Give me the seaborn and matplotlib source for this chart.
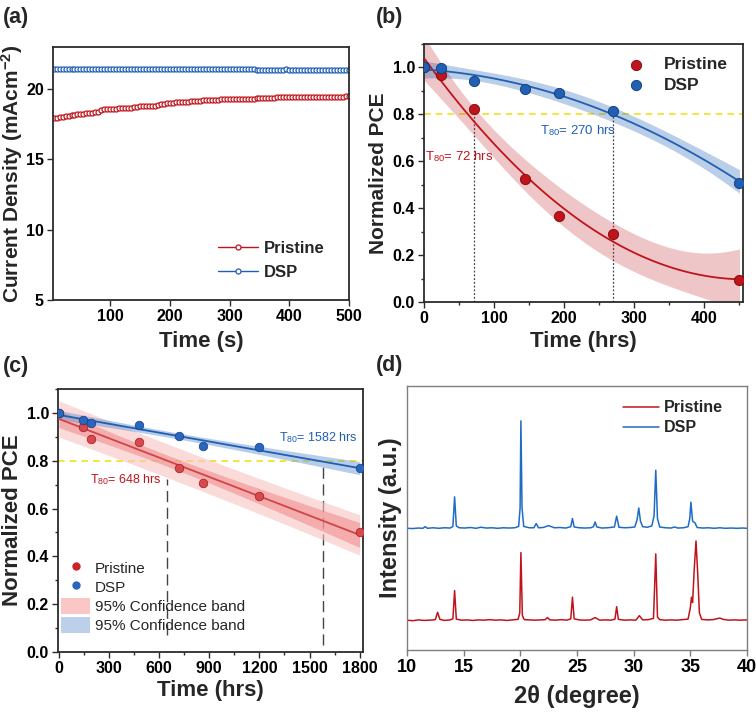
import numpy as np
import pandas as pd
import matplotlib
matplotlib.use("Agg")
import matplotlib.pyplot as plt
import matplotlib.ticker as mticker
from matplotlib.patches import Patch
from matplotlib.lines import Line2D
import seaborn as sns

# ----------------------------------------------------
# Data
# ----------------------------------------------------
# (a) J-t tracking, one reading every 5 s
jt_time = list(range(5, 505, 5))
jt_pristine = [
    17.95, 17.98, 18.02, 18.05, 18.08, 18.11, 18.14, 18.17, 18.20, 18.23,
    18.26, 18.29, 18.31, 18.33, 18.35, 18.37, 18.55, 18.56, 18.57, 18.58,
    18.60, 18.62, 18.64, 18.66, 18.64, 18.63, 18.66, 18.70, 18.74, 18.77,
    18.79, 18.81, 18.82, 18.80, 18.82, 18.88, 18.93, 18.97, 19.00, 19.02,
    19.04, 19.06, 19.07, 19.08, 19.09, 19.11, 19.13, 19.15, 19.17, 19.19,
    19.21, 19.22, 19.23, 19.24, 19.25, 19.26, 19.27, 19.28, 19.29, 19.30,
    19.30, 19.31, 19.31, 19.32, 19.32, 19.33, 19.33, 19.33, 19.34, 19.34,
    19.35, 19.36, 19.37, 19.38, 19.40, 19.41, 19.42, 19.43, 19.43, 19.44,
    19.44, 19.44, 19.45, 19.45, 19.44, 19.45, 19.45, 19.46, 19.45, 19.45,
    19.46, 19.46, 19.45, 19.46, 19.47, 19.47, 19.46, 19.47, 19.48, 19.48,
]
jt_dsp = [
    21.40, 21.41, 21.41, 21.42, 21.41, 21.42, 21.42, 21.43, 21.42, 21.43,
    21.43, 21.44, 21.45, 21.44, 21.43, 21.44, 21.44, 21.45, 21.44, 21.45,
    21.45, 21.45, 21.46, 21.46, 21.45, 21.46, 21.46, 21.45, 21.45, 21.44,
    21.45, 21.45, 21.44, 21.45, 21.46, 21.46, 21.45, 21.45, 21.46, 21.45,
    21.45, 21.46, 21.46, 21.45, 21.46, 21.46, 21.45, 21.45, 21.44, 21.44,
    21.44, 21.44, 21.43, 21.44, 21.43, 21.43, 21.43, 21.42, 21.43, 21.42,
    21.42, 21.42, 21.41, 21.42, 21.41, 21.41, 21.40, 21.40, 21.39, 21.39,
    21.38, 21.38, 21.38, 21.37, 21.38, 21.38, 21.39, 21.39, 21.40, 21.38,
    21.36, 21.34, 21.33, 21.33, 21.34, 21.34, 21.35, 21.35, 21.34, 21.35,
    21.35, 21.34, 21.35, 21.35, 21.34, 21.33, 21.34, 21.34, 21.33, 21.33,
]

# (b) stability, normalized PCE
b_time = [0, 24, 72, 144, 192, 270, 450]
b_pristine = [1.00, 0.967, 0.823, 0.523, 0.366, 0.288, 0.095]
b_dsp = [1.00, 0.997, 0.942, 0.910, 0.893, 0.813, 0.509]

# (c) long-term stability, normalized PCE
c_time = [0, 144, 192, 480, 720, 864, 1200, 1800]
c_pristine = [1.00, 0.940, 0.889, 0.880, 0.771, 0.708, 0.653, 0.503]
c_dsp = [1.00, 0.969, 0.958, 0.949, 0.903, 0.861, 0.857, 0.768]

# (d) XRD traces (2theta, intensity a.u.)
xrd_pristine_2t = [
    10.0, 10.5, 11.0, 11.5, 12.0, 12.5, 12.7, 12.9, 13.3, 13.8,
    14.05, 14.2, 14.35, 14.8, 15.3, 15.8, 16.3, 16.8, 17.3, 17.8,
    18.3, 18.8, 19.3, 19.8, 19.95, 20.05, 20.18, 20.35, 20.8, 21.3,
    21.8, 22.2, 22.4, 22.6, 23.1, 23.6, 24.1, 24.45, 24.6, 24.75,
    25.2, 25.7, 26.2, 26.6, 27.0, 27.5, 28.0, 28.35, 28.5, 28.65,
    29.2, 29.7, 30.2, 30.5, 30.8, 31.3, 31.75, 31.95, 32.1, 32.3,
    32.8, 33.3, 33.8, 34.3, 34.8, 35.0, 35.1, 35.2, 35.35, 35.5,
    35.65, 35.8, 36.0, 36.5, 37.0, 37.4, 37.6, 37.9, 38.4, 38.9,
    39.4, 40.0,
]
xrd_pristine_int = [
    0.3, 0.1, 0.4, 0.2, 0.3, 0.5, 3.3, 0.6, 0.2, 0.4,
    0.8, 11.5, 0.7, 0.3, 0.4, 0.2, 0.4, 0.3, 0.5, 0.3,
    0.4, 0.2, 0.4, 0.6, 3.0, 25.9, 2.0, 0.5, 0.4, 0.3,
    0.4, 0.5, 1.3, 0.4, 0.3, 0.5, 0.3, 0.8, 9.0, 0.8,
    0.4, 0.3, 0.4, 1.3, 0.3, 0.4, 0.3, 0.7, 5.4, 0.6,
    0.3, 0.4, 0.3, 2.0, 0.4, 0.5, 1.0, 25.4, 1.5, 0.5,
    0.3, 0.4, 0.3, 0.5, 0.7, 5.0, 9.0, 7.0, 20.0, 30.3,
    18.0, 3.0, 0.6, 0.4, 0.5, 0.9, 1.1, 0.6, 0.3, 0.4,
    0.3, 0.4,
]
xrd_dsp_2t = [
    10.0, 10.5, 11.0, 11.4, 11.6, 11.8, 12.3, 12.8, 13.3, 13.8,
    14.05, 14.2, 14.35, 14.6, 15.1, 15.6, 16.1, 16.5, 17.0, 17.5,
    18.0, 18.5, 19.0, 19.5, 19.85, 19.98, 20.05, 20.15, 20.3, 20.8,
    21.2, 21.4, 21.6, 22.0, 22.5, 23.0, 23.5, 24.0, 24.45, 24.6,
    24.75, 25.2, 25.7, 26.2, 26.45, 26.6, 26.75, 27.2, 27.7, 28.3,
    28.5, 28.7, 29.2, 29.7, 30.1, 30.3, 30.45, 30.6, 30.8, 31.2,
    31.6, 31.8, 31.95, 32.1, 32.3, 32.8, 33.3, 33.6, 33.9, 34.4,
    34.8, 34.95, 35.05, 35.2, 35.4, 35.6, 36.1, 36.6, 37.1, 37.6,
    38.1, 38.6, 39.1, 39.6, 40.0,
]
xrd_dsp_int = [
    0.3, 0.2, 0.4, 0.3, 0.9, 0.3, 0.5, 0.3, 0.5, 0.4,
    1.0, 12.2, 1.2, 0.5, 0.4, 0.6, 0.3, 0.7, 0.4, 0.5,
    0.3, 0.5, 0.4, 0.5, 1.0, 8.0, 41.0, 8.0, 1.0, 0.5,
    0.5, 2.1, 0.5, 0.6, 1.3, 0.5, 0.6, 0.4, 0.9, 4.0,
    0.8, 0.5, 0.4, 0.5, 0.9, 2.7, 0.8, 0.4, 0.5, 0.8,
    4.9, 0.7, 0.5, 0.6, 0.8, 3.5, 8.0, 3.0, 0.9, 0.7,
    1.2, 5.0, 22.3, 4.0, 0.8, 0.5, 0.4, 0.8, 0.4, 0.5,
    0.9, 4.0, 10.2, 3.0, 2.4, 0.6, 0.4, 0.5, 0.3, 0.5,
    0.3, 0.4, 0.3, 0.4, 0.3,
]

# ----------------------------------------------------
# Styling
# ----------------------------------------------------
sns.set_theme(style="ticks")
plt.rcParams["font.family"] = ["Liberation Sans", "DejaVu Sans"]
plt.rcParams["mathtext.fontset"] = "custom"
plt.rcParams["mathtext.rm"] = "Liberation Sans"
plt.rcParams["mathtext.bf"] = "Liberation Sans:bold"
plt.rcParams["mathtext.it"] = "Liberation Serif:italic"

RED = "#c0141c"
BLUE = "#1f5fb4"
YELLOW = "#f2e21c"
TICK_FS = 11.5
LABEL_FS = 16

fig = plt.figure(figsize=(7.56, 7.13), dpi=100)
W, H = 756, 713


def add_ax(left, top, right, bottom):
    return fig.add_axes([left / W, 1 - bottom / H, (right - left) / W, (bottom - top) / H])


def frame(ax, color="#2b2b2b", lw=1.3, fs=TICK_FS):
    for s in ax.spines.values():
        s.set_visible(True)
        s.set_color(color)
        s.set_linewidth(lw)
    ax.tick_params(which="both", direction="out", colors=color, width=1,
                   labelsize=fs, labelcolor="black", pad=2.5)
    ax.tick_params(which="major", length=4)
    ax.tick_params(which="minor", length=2.5)
    for lab in ax.get_xticklabels() + ax.get_yticklabels():
        lab.set_fontweight("bold")


def labels(ax, xl, yl, xpos, ypos, fs=LABEL_FS, yfs=None):
    ax.set_xlabel(xl, fontsize=fs, fontweight="bold")
    ax.set_ylabel(yl, fontsize=yfs or fs, fontweight="bold")
    ax.xaxis.label.set_va("center")
    ax.yaxis.label.set_va("center")
    ax.xaxis.set_label_coords(0.5, xpos)
    ax.yaxis.set_label_coords(ypos, 0.5)


def poly_band(x, y, order, grid, tval):
    # least-squares fit and its 95% confidence half-width on grid
    x = np.asarray(x, dtype=float)
    y = np.asarray(y, dtype=float)
    X = np.vander(x, order + 1)
    coef = np.linalg.lstsq(X, y, rcond=None)[0]
    dof = len(x) - (order + 1)
    s2 = np.sum((y - X @ coef) ** 2) / dof
    cov = s2 * np.linalg.inv(X.T @ X)
    G = np.vander(grid, order + 1)
    fit = G @ coef
    half = tval * np.sqrt(np.sum((G @ cov) * G, axis=1))
    return fit, half, s2


ax_a = add_ax(53, 47, 349, 300)
ax_b = add_ax(424, 44, 743, 302)
ax_c = add_ax(58, 389, 363, 652)
ax_d = add_ax(407, 386, 747, 650)

# ----------------------------------------------------
# (a) Current density vs time
# ----------------------------------------------------
for vals, col, lab in [(jt_pristine, RED, "Pristine"), (jt_dsp, BLUE, "DSP")]:
    sns.lineplot(x=jt_time, y=vals, ax=ax_a, color=col, lw=1.0, marker="o",
                 markersize=3.6, markerfacecolor="white", markeredgecolor=col,
                 markeredgewidth=0.9, label=lab)
ax_a.set_xlim(4, 500)
ax_a.set_ylim(5, 23)
ax_a.xaxis.set_major_locator(mticker.MultipleLocator(100))
ax_a.yaxis.set_major_locator(mticker.MultipleLocator(5))
labels(ax_a, "Time (s)", r"Current Density (mAcm$^{\mathbf{-2}}$)", -0.165, -0.137, yfs=15)
frame(ax_a)
ax_a.legend(loc="lower right", bbox_to_anchor=(0.97, 0.02), frameon=False,
            prop={"weight": "bold", "size": 12}, handlelength=2.4,
            handletextpad=0.4, labelspacing=0.55)

# ----------------------------------------------------
# (b) Normalized PCE, quadratic fits
# ----------------------------------------------------
ax_b.axhline(0.8, color=YELLOW, lw=1.2, ls=(0, (4, 3)), zorder=1)
ax_b.vlines([72, 270], 0, [0.823, 0.813], colors="#444444", lw=0.9,
            linestyles=(0, (1.5, 1.5)), zorder=1)
grid_b = np.linspace(min(b_time), max(b_time), 200)
for vals, col, a in [(b_pristine, RED, 0.24), (b_dsp, BLUE, 0.3)]:
    fit, half, _ = poly_band(b_time, vals, 2, grid_b, 2.776)
    ax_b.fill_between(grid_b, fit - half, fit + half, color=col, alpha=a, lw=0, zorder=2)
    sns.regplot(x=b_time, y=vals, order=2, ci=None, scatter=False, color=col,
                line_kws={"lw": 1.3, "zorder": 3}, ax=ax_b)
sns.scatterplot(x=b_time, y=b_pristine, ax=ax_b, color=RED, s=55,
                edgecolor="#7a0a0e", linewidth=0.6, zorder=5, label="Pristine")
sns.scatterplot(x=b_time, y=b_dsp, ax=ax_b, color=BLUE, s=55,
                edgecolor="#0f3a75", linewidth=0.6, zorder=5, label="DSP")
ax_b.text(2, 0.62, r"T$_{80}$= 72 hrs", color=RED, fontsize=9.5, va="center")
ax_b.text(166, 0.73, r"T$_{80}$= 270 hrs", color=BLUE, fontsize=9.5, va="center")
ax_b.set_xlim(0, 455)
ax_b.set_ylim(0, 1.1)
ax_b.xaxis.set_major_locator(mticker.MultipleLocator(100))
ax_b.xaxis.set_minor_locator(mticker.MultipleLocator(50))
ax_b.yaxis.set_major_locator(mticker.MultipleLocator(0.2))
ax_b.yaxis.set_minor_locator(mticker.MultipleLocator(0.1))
ax_b.yaxis.set_major_formatter(mticker.FormatStrFormatter("%.1f"))
labels(ax_b, "Time (hrs)", "Normalized PCE", -0.155, -0.142, yfs=15)
frame(ax_b)
ax_b.legend(loc="upper right", bbox_to_anchor=(1.0, 1.01), frameon=False,
            prop={"weight": "bold", "size": 12.5}, handletextpad=0.6,
            labelspacing=0.3)

# ----------------------------------------------------
# (c) Normalized PCE, linear fits
# ----------------------------------------------------
ax_c.axhline(0.8, color=YELLOW, lw=1.2, ls=(0, (4, 3)), zorder=1)
ax_c.vlines([648, 1582], [0.07, 0.03], [0.725, 0.80], colors="#444444", lw=1.0,
            linestyles=(0, (8, 4)), zorder=1)
grid_c = np.linspace(min(c_time), max(c_time), 200)

# light 95% prediction band for pristine
fit, half, s2 = poly_band(c_time, c_pristine, 1, grid_c, 2.447)
pred = np.sqrt(half ** 2 + (2.447 ** 2) * s2)
ax_c.fill_between(grid_c, fit - pred, fit + pred, color="#f9c2c2", alpha=0.6, lw=0, zorder=1)

for vals, col, band, a in [(c_pristine, "#d0454a", "#ee7f7f", 0.5),
                           (c_dsp, BLUE, "#6f9bd3", 0.5)]:
    fit, half, _ = poly_band(c_time, vals, 1, grid_c, 2.447)
    ax_c.fill_between(grid_c, fit - half, fit + half, color=band, alpha=a, lw=0, zorder=2)
    sns.regplot(x=c_time, y=vals, order=1, ci=None, scatter=False, color=col,
                line_kws={"lw": 1.3, "zorder": 3}, ax=ax_c)
sns.scatterplot(x=c_time, y=c_pristine, ax=ax_c, color="#d8484c", s=38,
                edgecolor="#9a1c20", linewidth=0.5, zorder=5)
sns.scatterplot(x=c_time, y=c_dsp, ax=ax_c, color="#2a66bd", s=38,
                edgecolor="#123f80", linewidth=0.5, zorder=5)
ax_c.text(185, 0.72, r"T$_{80}$= 648 hrs", color=RED, fontsize=9, va="center")
ax_c.text(1319, 0.896, r"T$_{80}$= 1582 hrs", color=BLUE, fontsize=9, va="center")
ax_c.set_xlim(-5, 1820)
ax_c.set_ylim(0, 1.1)
ax_c.xaxis.set_major_locator(mticker.MultipleLocator(300))
ax_c.xaxis.set_minor_locator(mticker.MultipleLocator(150))
ax_c.yaxis.set_major_locator(mticker.MultipleLocator(0.2))
ax_c.yaxis.set_minor_locator(mticker.MultipleLocator(0.1))
ax_c.yaxis.set_major_formatter(mticker.FormatStrFormatter("%.1f"))
labels(ax_c, "Time (hrs)", "Normalized PCE", -0.148, -0.15)
frame(ax_c)
handles_c = [
    Line2D([], [], ls="", marker="o", color="#c8242a", markersize=5),
    Line2D([], [], ls="", marker="o", color="#2a66bd", markersize=5),
    Patch(facecolor="#fbc6c6", edgecolor="none"),
    Patch(facecolor="#bcd0ea", edgecolor="none"),
]
ax_c.legend(handles_c, ["Pristine", "DSP", "95% Confidence band", "95% Confidence band"],
            loc="lower left", bbox_to_anchor=(-0.035, 0.02), frameon=False,
            prop={"size": 11}, handlelength=1.9, handleheight=1.2,
            handletextpad=0.3, labelspacing=0.2)

# ----------------------------------------------------
# (d) XRD
# ----------------------------------------------------
sns.lineplot(x=xrd_pristine_2t, y=np.array(xrd_pristine_int) + 11.0, ax=ax_d,
             color=RED, lw=1.1, label="Pristine")
sns.lineplot(x=xrd_dsp_2t, y=np.array(xrd_dsp_int) + 45.8, ax=ax_d,
             color="#1f6cc4", lw=1.1, label="DSP")
ax_d.set_xlim(10, 40)
ax_d.set_ylim(0, 100)
ax_d.xaxis.set_major_locator(mticker.MultipleLocator(5))
ax_d.set_yticks([])
labels(ax_d, "2θ (degree)", "Intensity (a.u.)", -0.178, -0.05, fs=17)
frame(ax_d, color="#7f7f7f", lw=1.0, fs=13)
ax_d.legend(loc="upper right", bbox_to_anchor=(0.97, 1.0), frameon=False,
            prop={"weight": "bold", "size": 11.5}, handlelength=2.2,
            handletextpad=0.3, labelspacing=0.3)

# Panel labels
for x, y, t in [(3, 17, "(a)"), (376, 17, "(b)"), (3, 367, "(c)"), (376, 365, "(d)")]:
    fig.text(x / W, 1 - y / H, t, fontsize=15.5, fontweight="bold", va="center", ha="left")

fig.savefig("out.png", dpi=100)
